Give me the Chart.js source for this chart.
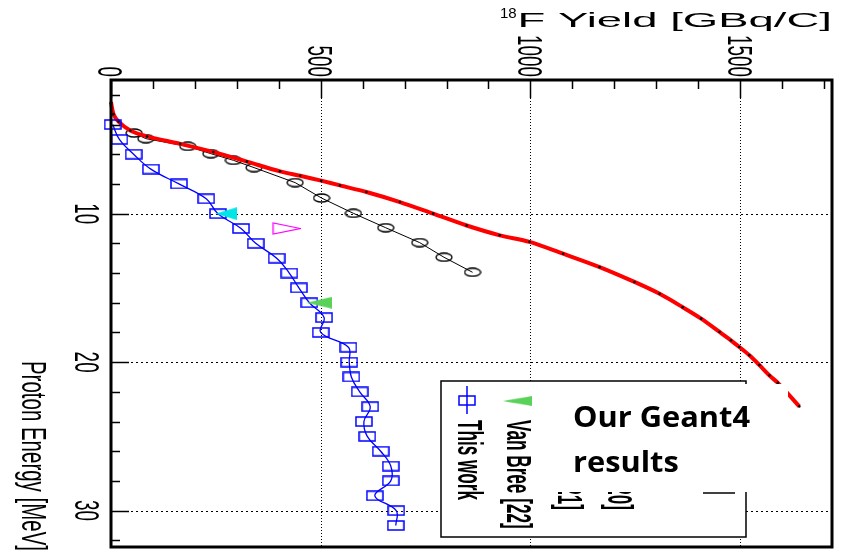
<!DOCTYPE html>
<html>
<head>
<meta charset="utf-8">
<script src="https://cdn.jsdelivr.net/npm/chart.js@4.4.0/dist/chart.umd.min.js"></script>
<style>
  html, body { margin: 0; padding: 0; background: #fff; }
  canvas { display: block; }
</style>
</head>
<body>
<canvas id="yieldChart" width="846" height="556"></canvas>
<script>
// proton energy [MeV] vs 18F yield [GBq/C]
const thisWorkEnergy = [4, 5, 6, 7, 8, 9, 10, 11, 12, 13, 14, 15, 16, 17, 18, 19, 20, 21, 22, 23, 24, 25, 26, 27, 28, 29, 30, 31];
const thisWorkYield = [4, 20, 54, 95, 162, 227, 255, 310, 345, 395, 425, 448, 473, 508, 500, 566, 568, 573, 593, 618, 603, 611, 643, 667, 667, 629, 680, 679];

const geantEnergy = [4.57, 4.95, 5.47, 5.96, 6.41, 6.9, 7.91, 8.95, 9.98, 10.95, 11.95, 12.94, 13.95];
const geantYield = [55, 83, 183, 238, 292, 341, 439, 502, 578, 655, 736, 794, 862];

const simEnergy = [2.5, 3.3, 3.8, 4.4, 4.8, 5.3, 5.85, 6.5, 7.15, 7.45, 7.78, 8.1, 8.54, 9.22, 10.0, 10.8, 11.46, 11.9, 12.7, 13.6, 14.6, 15.4, 16.3, 17.07, 17.97, 18.53, 18.98, 19.54, 20.2, 20.9, 21.4, 22.0, 22.98];
const simYield = [0, 6, 18, 46, 86, 165, 244, 324, 403, 451, 501, 546, 609, 689, 768, 848, 927, 998, 1078, 1165, 1248, 1308, 1363, 1407, 1451, 1478, 1498, 1522, 1546, 1570, 1590, 1610, 1641];

const vanBreeEnergy = [16];
const vanBreeYield = [497];
const cyanEnergy = [10];
const cyanYield = [275];
const magentaEnergy = [11];
const magentaYield = [419];

const yieldTicks = [0, 500, 1000, 1500];
const yieldTickLabels = ['0', '500', '1000', '1500'];
const energyTicks = [10, 20, 30];
const energyTickLabels = ['10', '20', '30'];
const yieldMinorStep = 100;
const energyMinorStep = 2;

const pts = (xs, ys) => xs.map((v, i) => ({ x: v, y: ys[i] }));

function marker(w, h, draw) {
    const c = document.createElement('canvas');
    c.width = w;
    c.height = h;
    draw(c.getContext('2d'), w, h);
    return c;
}

const squareMark = marker(18, 11, (g, w, h) => {
    g.strokeStyle = '#0000ff';
    g.lineWidth = 1.5;
    g.strokeRect(1, 1, w - 2, h - 2);
});
const circleMark = marker(18, 10, (g, w, h) => {
    g.strokeStyle = '#000';
    g.lineWidth = 1.3;
    g.beginPath();
    g.ellipse(w / 2, h / 2, w / 2 - 1, h / 2 - 1, 0, 0, Math.PI * 2);
    g.stroke();
});
const cyanMark = marker(22, 13, (g, w, h) => {
    g.fillStyle = '#00e6e6';
    g.beginPath();
    g.moveTo(0, h / 2); g.lineTo(w, 0); g.lineTo(w, h);
    g.closePath();
    g.fill();
});
const greenMark = marker(26, 12, (g, w, h) => {
    g.fillStyle = '#5ad25a';
    g.beginPath();
    g.moveTo(0, h / 2); g.lineTo(w, 0); g.lineTo(w, h);
    g.closePath();
    g.fill();
});
const magentaMark = marker(29, 13, (g, w, h) => {
    g.strokeStyle = '#ff00ff';
    g.lineWidth = 1.2;
    g.beginPath();
    g.moveTo(w - 1, h / 2); g.lineTo(1, 1); g.lineTo(1, h - 1);
    g.closePath();
    g.stroke();
});

// text rotated 90deg clockwise, squeezed along its baseline like the original
function rotText(ctx, txt, x, y, font, sx, align) {
    ctx.save();
    ctx.translate(x, y);
    ctx.rotate(Math.PI / 2);
    ctx.scale(sx, 1);
    ctx.font = font;
    ctx.textAlign = align;
    ctx.textBaseline = 'alphabetic';
    ctx.fillStyle = '#000';
    ctx.fillText(txt, 0, 0);
    ctx.restore();
}

const TICK_FONT = '35px "Liberation Sans"';
const TICK_CAP = 35 * 0.716;

const framePlugin = {
    id: 'framePlugin',
    beforeDatasetsDraw(chart) {
        const { ctx, chartArea: a, scales: { x, y } } = chart;
        ctx.save();
        ctx.strokeStyle = '#000';
        ctx.lineWidth = 1;
        ctx.setLineDash([1, 2]);
        yieldTicks.forEach(v => {
            if (v <= x.min) return;
            const px = Math.round(x.getPixelForValue(v)) + 0.5;
            ctx.beginPath(); ctx.moveTo(px, a.top); ctx.lineTo(px, a.bottom); ctx.stroke();
        });
        ctx.setLineDash([2, 3]);
        energyTicks.forEach(e => {
            const py = Math.round(y.getPixelForValue(e)) + 0.5;
            ctx.beginPath(); ctx.moveTo(a.left, py); ctx.lineTo(a.right, py); ctx.stroke();
        });
        ctx.restore();
    },
    afterDatasetsDraw(chart) {
        const { ctx, chartArea: a, scales: { x, y } } = chart;
        ctx.save();
        ctx.strokeStyle = '#000';
        ctx.lineWidth = 1.5;

        // tick marks
        for (let v = 0; v <= x.max; v += yieldMinorStep) {
            const px = Math.round(x.getPixelForValue(v)) + 0.5;
            const len = v % 500 === 0 ? 18 : 9;
            ctx.beginPath(); ctx.moveTo(px, a.top); ctx.lineTo(px, a.top + len); ctx.stroke();
        }
        for (let e = energyMinorStep; e <= y.max; e += energyMinorStep) {
            const py = Math.round(y.getPixelForValue(e)) + 0.5;
            const len = e % 10 === 0 ? 18 : 9;
            ctx.beginPath(); ctx.moveTo(a.left, py); ctx.lineTo(a.left + len, py); ctx.stroke();
        }

        // frame
        ctx.lineWidth = 3;
        ctx.strokeRect(a.left, a.top, a.right - a.left, a.bottom - a.top);

        // tick labels
        yieldTicks.forEach((v, i) => {
            const px = x.getPixelForValue(v);
            rotText(ctx, yieldTickLabels[i], px - TICK_CAP / 2, a.top - 3, TICK_FONT, 0.54, 'right');
        });
        energyTicks.forEach((e, i) => {
            const py = y.getPixelForValue(e);
            rotText(ctx, energyTickLabels[i], 75, py, TICK_FONT, 0.54, 'center');
        });

        // axis titles
        rotText(ctx, 'Proton Energy [MeV]', 22, 551, '35px "Liberation Sans"', 0.585, 'right');

        ctx.fillStyle = '#000';
        ctx.textAlign = 'right';
        ctx.font = '45.5px "Liberation Sans"';
        const titleW = ctx.measureText('F Yield [GBq/C]').width;
        ctx.save();
        ctx.translate(832, 27);
        ctx.scale(1, 0.45);
        ctx.fillText('F Yield [GBq/C]', 0, 0);
        ctx.restore();
        ctx.font = '15px "Liberation Sans"';
        ctx.fillText('18', 832 - titleW - 1, 18);

        // legend
        ctx.fillStyle = '#fff';
        ctx.fillRect(441, 381, 305, 156);
        ctx.lineWidth = 1.5;
        ctx.strokeStyle = '#000';
        ctx.strokeRect(441, 381, 305, 156);

        ctx.drawImage(squareMark, 458, 395);
        ctx.strokeStyle = '#0000ff';
        ctx.lineWidth = 1.5;
        ctx.beginPath(); ctx.moveTo(467, 386); ctx.lineTo(467, 414); ctx.stroke();
        ctx.save();
        ctx.translate(517, 401);
        ctx.drawImage(greenMark, -14, -5, 29, 10);
        ctx.restore();

        const LEG_FONT = 'bold 35px "Liberation Sans"';
        rotText(ctx, 'This work', 458, 420, LEG_FONT, 0.49, 'left');
        rotText(ctx, 'Van Bree [22]', 507, 420, LEG_FONT, 0.49, 'left');
        rotText(ctx, 'Ref. [21]', 558, 510, LEG_FONT, 0.49, 'right');
        rotText(ctx, 'Ref. [20]', 608, 510, LEG_FONT, 0.49, 'right');
        ctx.strokeStyle = '#000';
        ctx.lineWidth = 1.5;
        ctx.beginPath(); ctx.moveTo(703, 493); ctx.lineTo(735, 493); ctx.stroke();

        // pasted note box
        ctx.fillStyle = '#fff';
        ctx.fillRect(550, 384, 238, 108);
        ctx.fillStyle = '#000';
        ctx.font = 'bold 28px "Open Sans"';
        ctx.textAlign = 'left';
        const sx = 177 / ctx.measureText('Our Geant4').width;
        ctx.save();
        ctx.translate(573, 427);
        ctx.scale(sx, 1);
        ctx.fillText('Our Geant4', 0, 0);
        ctx.fillText('results', 0, 45);
        ctx.restore();

        ctx.restore();
    }
};

new Chart(document.getElementById('yieldChart'), {
    type: 'scatter',
    data: {
        datasets: [
            {
                label: 'This work',
                data: pts(thisWorkYield, thisWorkEnergy),
                showLine: true,
                borderColor: '#0000ff',
                borderWidth: 1.3,
                tension: 0.4,
                pointStyle: squareMark,
                clip: false,
                order: 1
            },
            {
                label: 'Van Bree [22]',
                data: pts(vanBreeYield, vanBreeEnergy),
                pointStyle: greenMark,
                clip: false,
                order: 0
            },
            {
                label: 'cyan',
                data: pts(cyanYield, cyanEnergy),
                pointStyle: cyanMark,
                clip: false,
                order: 0
            },
            {
                label: 'magenta',
                data: pts(magentaYield, magentaEnergy),
                pointStyle: magentaMark,
                clip: false,
                order: 0
            },
            {
                label: 'Geant4',
                data: pts(geantYield, geantEnergy),
                showLine: true,
                borderColor: '#000',
                borderWidth: 1,
                tension: 0,
                pointStyle: circleMark,
                clip: false,
                order: 3
            },
            {
                label: 'Simulation',
                data: pts(simYield, simEnergy),
                showLine: true,
                borderColor: '#ff0000',
                borderWidth: 4,
                tension: 0.3,
                pointRadius: 1.3,
                pointBorderWidth: 0,
                pointBackgroundColor: '#000',
                clip: false,
                order: 2
            }
        ]
    },
    options: {
        responsive: false,
        animation: false,
        devicePixelRatio: 1,
        layout: { padding: { left: 111, top: 80, right: 14, bottom: 9 } },
        scales: {
            x: { type: 'linear', min: 0, max: 1719, display: false },
            y: { type: 'linear', min: 1, max: 32.45, reverse: true, display: false }
        },
        plugins: {
            legend: { display: false },
            tooltip: { enabled: false }
        }
    },
    plugins: [framePlugin]
});
</script>
</body>
</html>
